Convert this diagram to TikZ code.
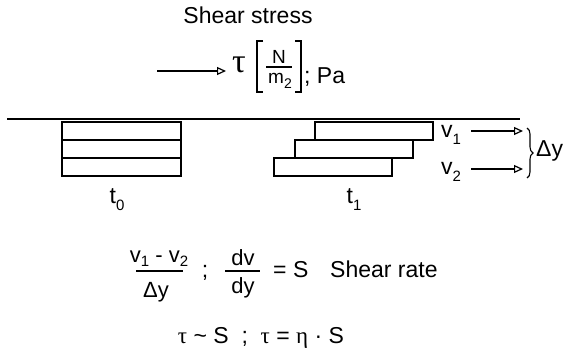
\documentclass[tikz,border=0pt]{standalone}
\usepackage{fontspec}
\setmainfont{Liberation Sans}
\newfontfamily\grk{Liberation Serif}
\usetikzlibrary{arrows.meta,decorations.pathreplacing}
\newcommand{\sbs}[1]{\raisebox{-0.32em}{\fontsize{15}{15}\selectfont #1}}
\newcommand{\sbn}[1]{\raisebox{-0.2em}{\fontsize{15}{15}\selectfont #1}}
\newcommand{\sbf}[1]{\raisebox{-0.3em}{\fontsize{14}{14}\selectfont #1}}
\begin{document}
\begin{tikzpicture}[x=1pt,y=-1pt,
  txt/.style={inner sep=0pt,font=\fontsize{23}{27}\selectfont},
  sm/.style={inner sep=0pt,font=\fontsize{22}{26}\selectfont},
  layer/.style={draw,line width=1.5pt},
  bar/.style={line width=1.2pt},
  flow/.style={line width=1.2pt,-{Triangle[open,length=9pt,width=8pt,line width=1.2pt]}},
]
\useasboundingbox (0,0) rectangle (564,351);
% title
\node[txt,anchor=base] (title) at (248,23) {Shear stress};
% tau with units
\node[inner sep=0pt,anchor=base] (tau) at (239,72) {\grk\fontsize{34}{34}\selectfont τ};
\coordinate (a0) at (157,71);
\coordinate (a1) at (226,71);
\draw[flow] (a0) -- (a1);
\draw[bar] (263,41) -- (257,41) -- (257,92) -- (263,92);
\draw[bar] (295,41) -- (301,41) -- (301,92) -- (295,92);
\node[inner sep=0pt,font=\fontsize{19}{20}\selectfont,anchor=base] (N) at (279,63) {N};
\draw[bar] (266,67) -- (292,67);
\node[inner sep=0pt,font=\fontsize{19}{20}\selectfont,anchor=base] (m) at (280,83) {m\sbf{2}};
\node[txt,anchor=base west] (pa) at (304,83) {; Pa};
% wall
\draw[line width=1.6pt] (7,119) -- (520,119);
% left stack
\draw[layer] (62,122) rectangle (181,140);
\draw[layer] (62,140) rectangle (181,158);
\draw[layer] (62,158) rectangle (181,176);
\node[txt,anchor=base] (t0) at (117,203) {t\sbs{0}};
% right stack
\draw[layer] (315,122) rectangle (433,140);
\draw[layer] (295,140) rectangle (413,158);
\draw[layer] (274,158) rectangle (392,176);
\node[txt,anchor=base] (t1) at (354,203) {t\sbs{1}};
% velocities
\node[txt,anchor=base west] (v1) at (441,137) {v\sbs{1}};
\node[txt,anchor=base west] (v2) at (441,174) {v\sbs{2}};
\coordinate (v1a) at (471,131);
\coordinate (v1b) at (523,131);
\coordinate (v2a) at (471,169);
\coordinate (v2b) at (523,169);
\draw[flow] (v1a) -- (v1b);
\draw[flow] (v2a) -- (v2b);
\coordinate (b0) at (527,128);
\coordinate (b1) at (527,178);
\draw[line width=1.1pt,decorate,decoration={brace,amplitude=6pt}] (b0) -- (b1);
\node[txt,anchor=base west] (dy) at (536,156) {Δy};
% shear rate
\node[sm,anchor=base] (num) at (159,262) {v\sbn{1} - v\sbn{2}};
\draw[bar] (136,271) -- (183,271);
\node[sm,anchor=base] (den) at (156,297) {Δy};
\node[txt,anchor=base] (semi) at (205,277) {;};
\node[sm,anchor=base] (dv) at (243,265) {dv};
\draw[bar] (225,271) -- (260,271);
\node[sm,anchor=base] (dyy) at (243,293) {dy};
\node[txt,anchor=base west] (eqs) at (273,277) {= S};
\node[txt,anchor=base west] (sr) at (330,277) {Shear rate};
% law
\node[txt,anchor=base] (law) at (261,343) {{\grk τ} \textasciitilde\ S \ ; \ {\grk τ} = {\grk η} · S};
\end{tikzpicture}
\end{document}
